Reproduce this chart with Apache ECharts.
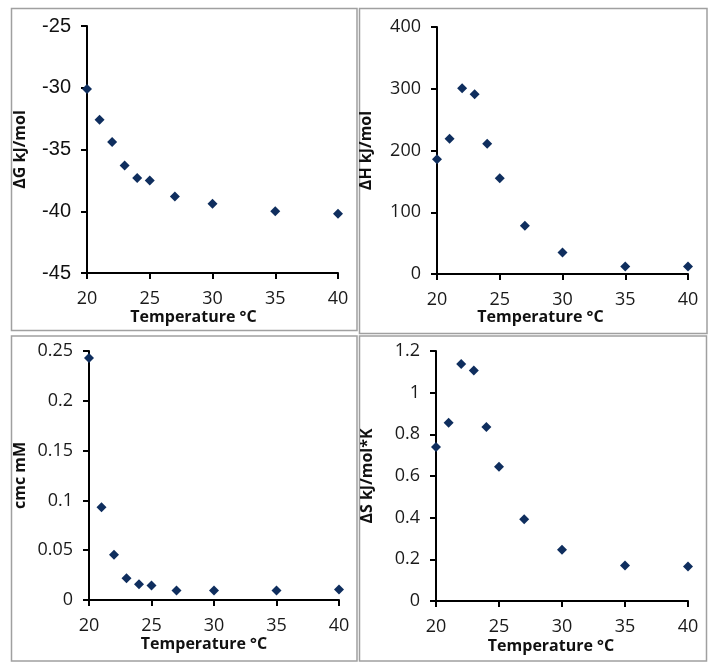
<!DOCTYPE html>
<html>
<head>
<meta charset="utf-8">
<script src="https://cdn.jsdelivr.net/npm/echarts@6/dist/echarts.min.js"></script>
<style>
html,body{margin:0;padding:0;background:#fff;}
#chart{width:718px;height:671px;}
</style>
</head>
<body>
<div id="chart"></div>
<script>
// Data
const temperature = [20, 21, 22, 23, 24, 25, 27, 30, 35, 40];
const deltaG = [-30.1, -32.6, -34.4, -36.3, -37.3, -37.5, -38.8, -39.4, -40.0, -40.2];
const deltaH = [186, 219, 301, 291, 211, 155, 78, 35, 12, 12];
const cmc = [0.243, 0.093, 0.0455, 0.0218, 0.0158, 0.0145, 0.0095, 0.0095, 0.0095, 0.0105];
const deltaS = [0.739, 0.856, 1.138, 1.107, 0.835, 0.645, 0.393, 0.246, 0.171, 0.166];

const xTitle = 'Temperature °C';
const yTitles = ['ΔG kJ/mol', 'ΔH kJ/mol', 'cmc mM', 'ΔS kJ/mol*K'];

const pair = (ys) => temperature.map((t, i) => [t, ys[i]]);

const labelFont = () => ({fontFamily: 'Open Sans', fontSize: 18, color: '#1a1a1a'});
const nameFont = () => ({fontFamily: 'Open Sans', fontSize: 16, fontWeight: 'bold', color: '#111'});
const axisLine = () => ({show: true, lineStyle: {color: '#000', width: 2}});
const axisTick = () => ({show: true, length: 6, lineStyle: {color: '#000', width: 2}});

const grids = [
  {left: 87, top: 26, width: 251, height: 247},
  {left: 437, top: 27, width: 251, height: 247},
  {left: 89, top: 351, width: 250, height: 249},
  {left: 436, top: 351, width: 252, height: 250}
];

const yRanges = [
  {min: -45, max: -25, interval: 5, gap: 59, font: {fontFamily: 'Liberation Sans', fontSize: 20, color: '#111'}},
  {min: 0, max: 400, interval: 100, gap: 63, font: labelFont()},
  {min: 0, max: 0.25, interval: 0.05, gap: 61, font: labelFont()},
  {min: 0, max: 1.2, interval: 0.2, gap: 61, font: labelFont()}
];
const xNameGaps = [36, 24, 36, 37];
const xNameShift = [38, 44, 20, 22];

const frameStyle = () => ({fill: 'none', stroke: '#a0a0a0', lineWidth: 1.5});
const makeGraphics = (shift) => [
  {type: 'rect', id: 'bg', silent: true, x: shift, y: shift, shape: {x: -2, y: -2, width: 722, height: 675}, style: {fill: '#ffffff'}, z: -2},
  {type: 'rect', id: 'f1', silent: true, shape: {x: 11.5, y: 8.5, width: 345.5, height: 322}, style: frameStyle(), z: -1},
  {type: 'rect', id: 'f2', silent: true, shape: {x: 359.5, y: 8.5, width: 347.5, height: 325}, style: frameStyle(), z: -1},
  {type: 'rect', id: 'f3', silent: true, shape: {x: 11.5, y: 336, width: 345.5, height: 325}, style: frameStyle(), z: -1},
  {type: 'rect', id: 'f4', silent: true, shape: {x: 359.5, y: 336, width: 347, height: 325}, style: frameStyle(), z: -1}
];

const option = {
  animation: false,
  backgroundColor: '#fff',
  grid: grids,
  xAxis: grids.map((g, i) => ({
    type: 'value', gridIndex: i, min: 20, max: 40, interval: 5,
    name: xTitle, nameLocation: 'middle', nameGap: xNameGaps[i],
    nameTextStyle: Object.assign(nameFont(), {padding: [0, xNameShift[i], 0, 0]}),
    axisLine: axisLine(), axisTick: axisTick(),
    axisLabel: Object.assign({margin: 17}, labelFont()),
    splitLine: {show: false}
  })),
  yAxis: yRanges.map((r, i) => ({
    type: 'value', gridIndex: i, min: r.min, max: r.max, interval: r.interval,
    name: yTitles[i], nameLocation: 'middle', nameRotate: 90, nameGap: r.gap,
    nameTextStyle: nameFont(),
    axisLine: axisLine(), axisTick: axisTick(),
    axisLabel: Object.assign({margin: 16}, r.font),
    splitLine: {show: false}
  })),
  series: [deltaG, deltaH, cmc, deltaS].map((ys, i) => ({
    type: 'scatter', xAxisIndex: i, yAxisIndex: i,
    data: pair(ys), symbol: 'diamond', symbolSize: 10,
    itemStyle: {color: '#0f2e5e', opacity: 1}
  })),
  graphic: makeGraphics(1)
};

const chart = echarts.init(document.getElementById('chart'), null, {renderer: 'canvas'});
chart.setOption(option);
// force a real change and a full repaint so every axis element is painted
chart.setOption({graphic: makeGraphics(0)});
chart.resize();
chart.getZr().refreshImmediately();
requestAnimationFrame(() => { chart.setOption({graphic: makeGraphics(1)}); chart.getZr().refreshImmediately(); });
setTimeout(() => { chart.setOption({graphic: makeGraphics(0)}); chart.getZr().refreshImmediately(); }, 50);
</script>
</body>
</html>
